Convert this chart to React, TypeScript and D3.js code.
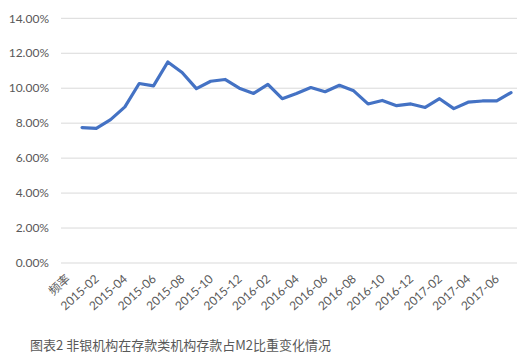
import React from "react";
import * as d3 from "d3";

const categories: string[] = [
  "频率",
  "2015-01", "2015-02", "2015-03", "2015-04", "2015-05", "2015-06",
  "2015-07", "2015-08", "2015-09", "2015-10", "2015-11", "2015-12",
  "2016-01", "2016-02", "2016-03", "2016-04", "2016-05", "2016-06",
  "2016-07", "2016-08", "2016-09", "2016-10", "2016-11", "2016-12",
  "2017-01", "2017-02", "2017-03", "2017-04", "2017-05", "2017-06",
];

const values: number[] = [
  7.75,
  7.7, 8.2, 8.93, 10.27, 10.13, 11.5,
  10.9, 9.98, 10.4, 10.5, 10.0, 9.7,
  10.22, 9.4, 9.7, 10.04, 9.8, 10.17,
  9.85, 9.1, 9.3, 9.0, 9.1, 8.9,
  9.4, 8.83, 9.2, 9.27, 9.27, 9.75,
];

const yTicks: number[] = [0, 2, 4, 6, 8, 10, 12, 14];

const title = "图表2 非银机构在存款类机构存款占M2比重变化情况";

export default function App() {
  const W = 525;
  const H = 362;
  const gridLeft = 61;
  const gridRight = 517;

  const x = d3.scalePoint<string>().domain(categories).range([82, 511]);
  const y = d3.scaleLinear().domain([0, 14]).range([263, 18.3]);

  const line = d3
    .line<number>()
    .x((_, i) => x(categories[i]) as number)
    .y((d) => y(d));

  const font = "Lato, 'Noto Sans CJK SC', sans-serif";

  return (
    <svg
      width={W}
      height={H}
      style={{ position: "absolute", left: 0, top: 0, background: "#fff" }}
    >
      <rect x={0} y={0} width={W} height={H} fill="#fff" />
      {yTicks.map((t) => (
        <g key={t}>
          <line
            x1={gridLeft}
            x2={gridRight}
            y1={y(t)}
            y2={y(t)}
            stroke="#d9d9d9"
            strokeWidth={1}
          />
          <text
            x={49}
            y={y(t)}
            dy="0.35em"
            textAnchor="end"
            fontSize={12}
            fill="#595959"
            fontFamily={font}
          >
            {t.toFixed(2) + "%"}
          </text>
        </g>
      ))}
      <path
        d={line(values) || ""}
        fill="none"
        stroke="#4472C4"
        strokeWidth={3.2}
        strokeLinejoin="round"
        strokeLinecap="round"
      />
      {categories.map((c, i) =>
        i % 2 === 0 ? (
          <text
            key={c}
            transform={`translate(${(x(c) as number) - 11},${280}) rotate(-42)`}
            textAnchor="end"
            fontSize={12}
            fill="#595959"
            fontFamily={font}
          >
            {c}
          </text>
        ) : null
      )}
      <text
        x={30}
        y={350}
        fontSize={13}
        fill="#595959"
        fontFamily="'Noto Sans CJK SC', sans-serif"
      >
        {title}
      </text>
    </svg>
  );
}
